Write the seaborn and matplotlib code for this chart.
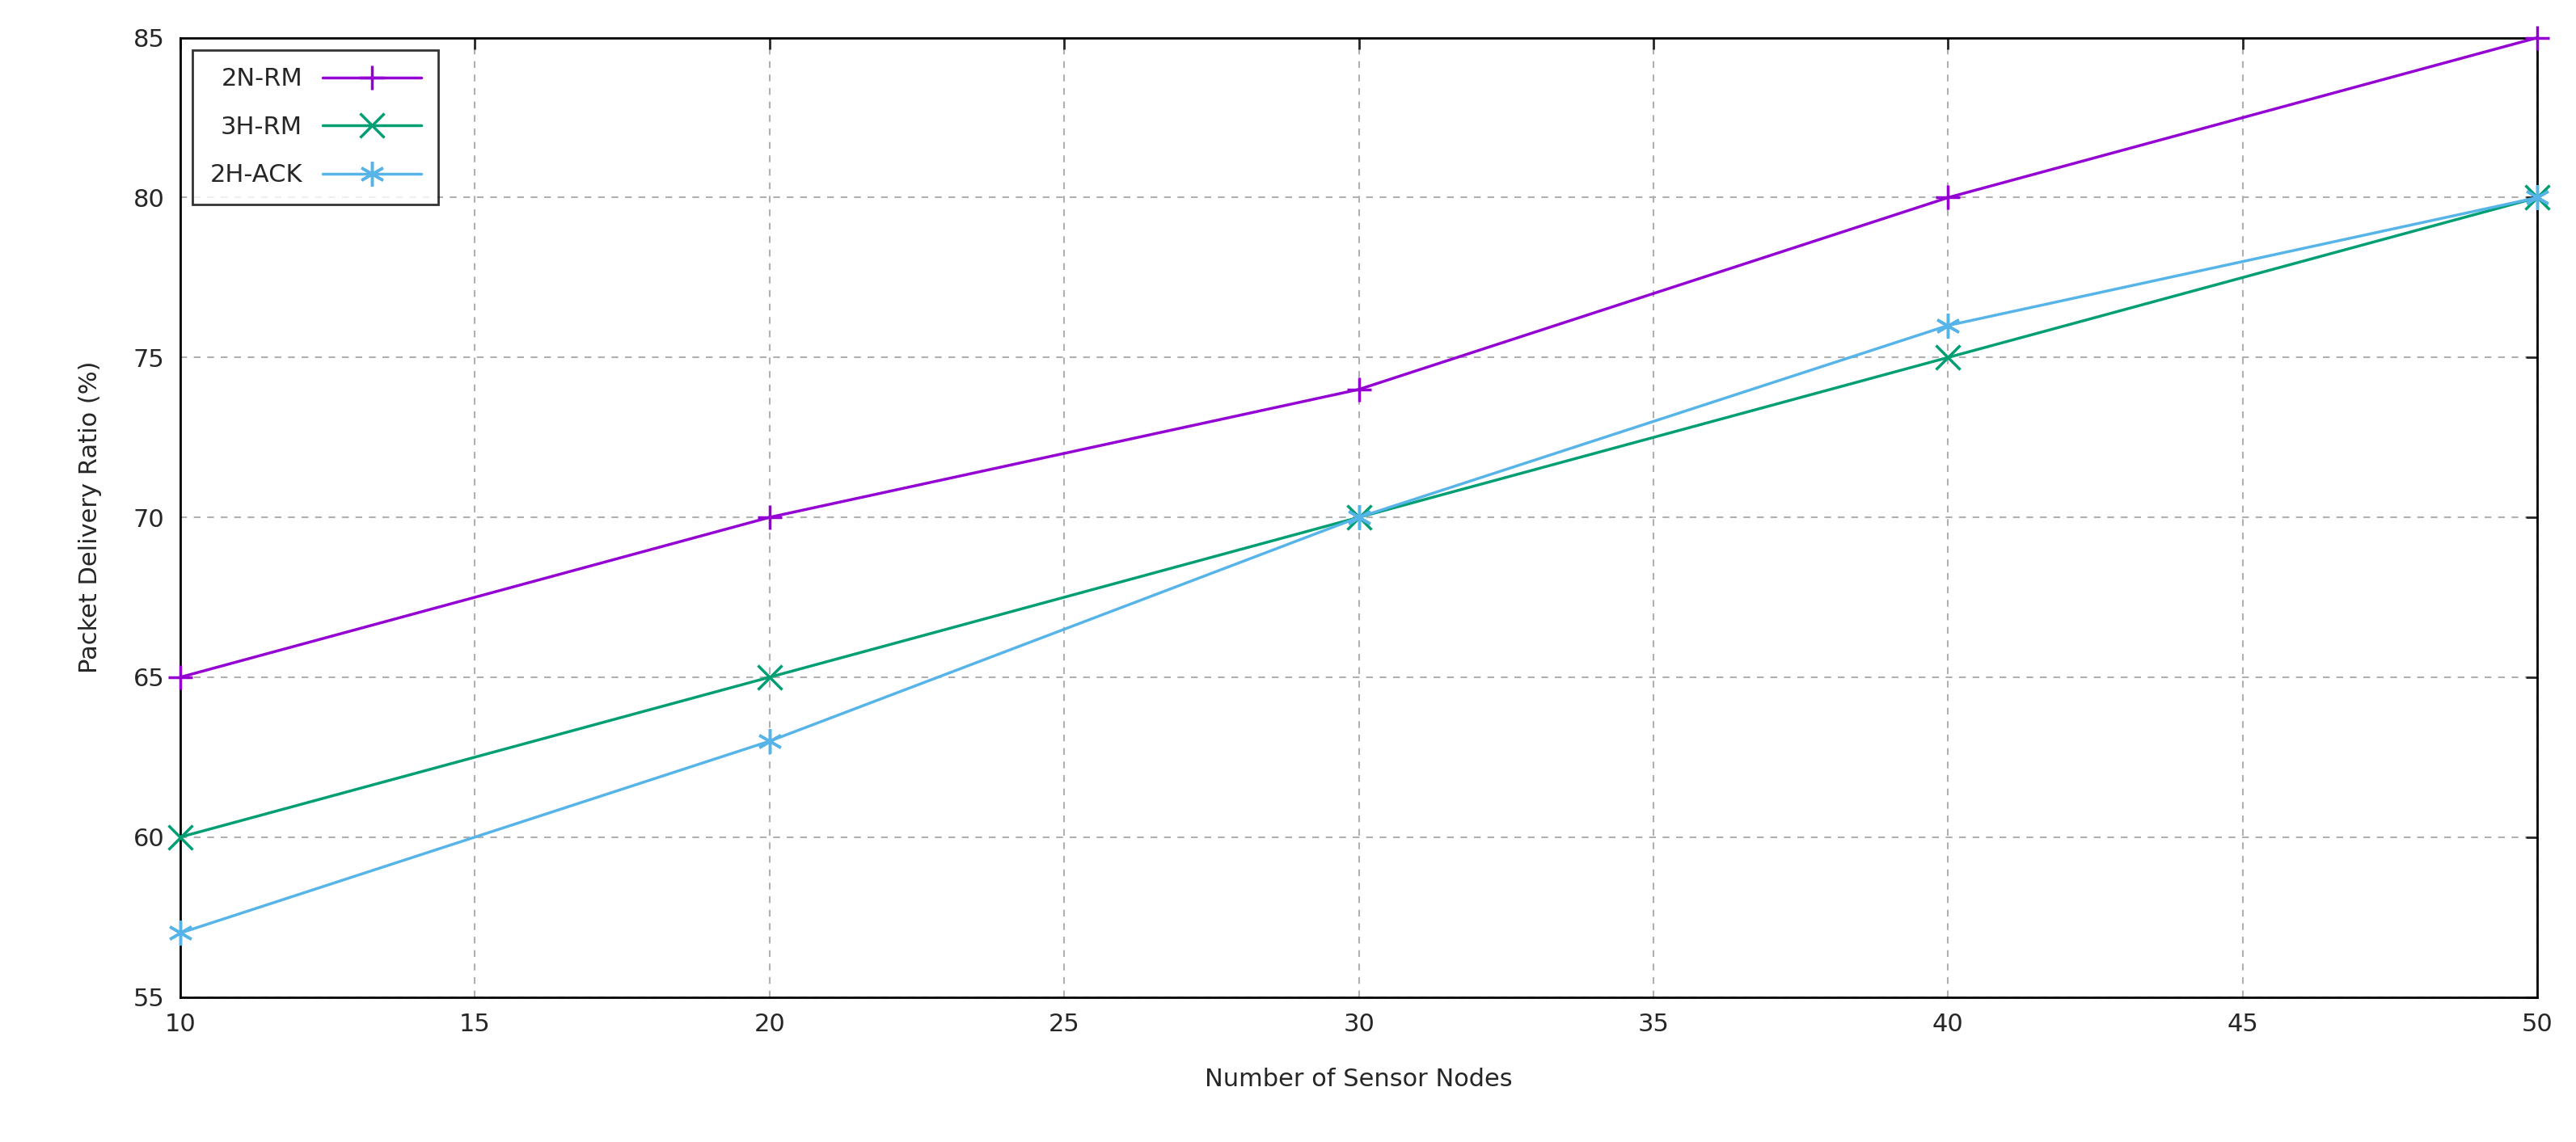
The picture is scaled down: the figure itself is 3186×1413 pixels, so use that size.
import matplotlib
matplotlib.use("Agg")
import matplotlib.pyplot as plt
import seaborn as sns
import pandas as pd

nodes = [10, 20, 30, 40, 50]
rm_2n = [65, 70, 74, 80, 85]
rm_3h = [60, 65, 70, 75, 80]
ack_2h = [57, 63, 70, 76, 80]

sns.set_style("white")
plt.rcParams['font.family'] = ['DejaVu Sans']

df = pd.DataFrame({'nodes': nodes * 3,
                   'pdr': rm_2n + rm_3h + ack_2h,
                   'scheme': ['2N-RM'] * 5 + ['3H-RM'] * 5 + ['2H-ACK'] * 5})

fig = plt.figure(figsize=(31.86, 14.13), dpi=100)
ax = fig.add_axes([0.070, 0.127, 0.915, 0.840])

colors = {'2N-RM': '#9400d3', '3H-RM': '#009e73', '2H-ACK': '#56b4e9'}
markers = {'2N-RM': '+', '3H-RM': 'x', '2H-ACK': (6, 2, 0)}
for name in ['2N-RM', '3H-RM', '2H-ACK']:
    sub = df[df.scheme == name]
    sns.lineplot(data=sub, x='nodes', y='pdr', ax=ax, color=colors[name], label=name,
                 marker=markers[name], markersize=22, markeredgewidth=2.5, linewidth=2.5,
                 markeredgecolor=colors[name], clip_on=False, zorder=3)

ax.set_xlim(10, 50)
ax.set_ylim(55, 85)
ax.set_xticks(range(10, 51, 5))
ax.set_yticks(range(55, 86, 5))
ax.grid(True, linestyle=(0, (4, 4)), color='#b0b0b0', linewidth=1.5)
for s in ax.spines.values():
    s.set_color('black')
    s.set_linewidth(2)
ax.tick_params(axis='both', labelsize=22, direction='in', length=10, width=2, pad=14,
               top=True, right=True)
ax.set_xlabel('Number of Sensor Nodes', fontsize=22, labelpad=28)
ax.set_ylabel('Packet Delivery Ratio (%)', fontsize=22, labelpad=28)

leg = ax.legend(loc='upper left', fontsize=22, markerfirst=False, frameon=True,
                fancybox=False, edgecolor='black', handlelength=4,
                borderpad=0.7, labelspacing=1.0)
leg.get_frame().set_linewidth(2)
leg.set_zorder(5)

fig.savefig('out.png', dpi=100)
